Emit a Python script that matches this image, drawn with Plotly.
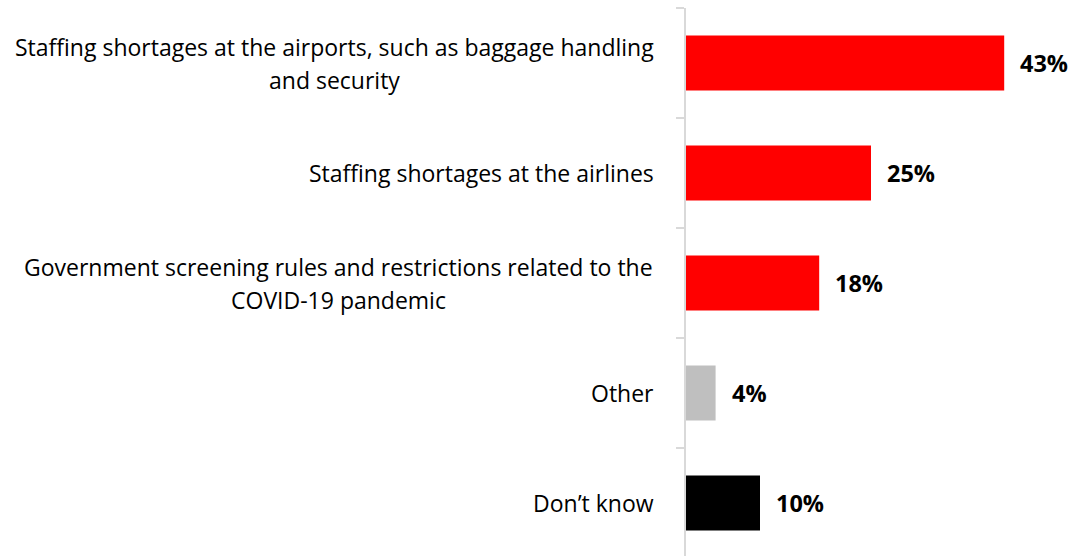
import plotly.graph_objects as go

# Survey responses, top to bottom
categories = [
    "Staffing shortages at the airports, such as baggage handling and security",
    "Staffing shortages at the airlines",
    "Government screening rules and restrictions related to the COVID-19 pandemic",
    "Other",
    "Don\u2019t know",
]
label_lines = [
    ["Staffing shortages at the airports, such as baggage handling", "and security"],
    ["Staffing shortages at the airlines"],
    ["Government screening rules and restrictions related to the", "COVID-19 pandemic"],
    ["Other"],
    ["Don\u2019t know"],
]
values = [43, 25, 18, 4, 10]
value_labels = ["43%", "25%", "18%", "4%", "10%"]
colors = ["#FF0000", "#FF0000", "#FF0000", "#BFBFBF", "#000000"]

FONT = "Open Sans"
LABEL_SIZE = 23
VALUE_SIZE = 23.5
W, H = 1073, 556
ML, MR, MT, MB = 686, 17, 8, 0
BAND = 110  # pixel height of each category band

fig = go.Figure(
    go.Bar(
        x=values,
        y=categories,
        orientation="h",
        marker=dict(color=colors, line=dict(width=0)),
        width=0.5,
        hoverinfo="skip",
    )
)

# bottom of the visible range so each band keeps the same pixel height
plot_h = H - MT - MB
y_bottom = -0.5 + plot_h / BAND

annotations = []
for cat, lines in zip(categories, label_lines):
    if len(lines) == 1:
        annotations.append(dict(
            x=0, y=cat, xref="x", yref="y", text=lines[0], showarrow=False,
            xanchor="right", yanchor="middle", xshift=-30,
            font=dict(family=FONT, size=LABEL_SIZE, color="#000000"),
        ))
    else:
        # two-line labels, centred on each other
        n = len(lines)
        for i, ln in enumerate(lines):
            annotations.append(dict(
                x=0, y=cat, xref="x", yref="y", text=ln, showarrow=False,
                xanchor="center", yanchor="middle",
                xshift=-352 if cat == categories[0] else -348,
                yshift=(n - 1) / 2 * 33 - i * 33,
                font=dict(family=FONT, size=LABEL_SIZE, color="#000000"),
            ))

for cat, v, t in zip(categories, values, value_labels):
    annotations.append(dict(
        x=v, y=cat, xref="x", yref="y", text="<b>%s</b>" % t, showarrow=False,
        xanchor="left", yanchor="middle", xshift=14,
        font=dict(family=FONT, size=VALUE_SIZE, color="#000000"),
    ))

fig.update_layout(
    width=W, height=H,
    margin=dict(l=ML, r=MR, t=MT, b=MB, pad=0),
    paper_bgcolor="#FFFFFF", plot_bgcolor="#FFFFFF",
    showlegend=False,
    bargap=0.5,
    annotations=annotations,
    xaxis=dict(range=[0, 50], visible=False, fixedrange=True),
    yaxis=dict(
        type="category",
        categoryorder="array", categoryarray=categories,
        range=[y_bottom, -0.5],
        tickson="boundaries",
        ticks="outside", ticklen=8, tickwidth=1.5, tickcolor="#D9D9D9",
        showticklabels=False,
        showline=True, linecolor="#D9D9D9", linewidth=1.5,
        showgrid=False, zeroline=False, fixedrange=True,
    ),
)

fig.write_html("out.html", config={"displayModeBar": False})
